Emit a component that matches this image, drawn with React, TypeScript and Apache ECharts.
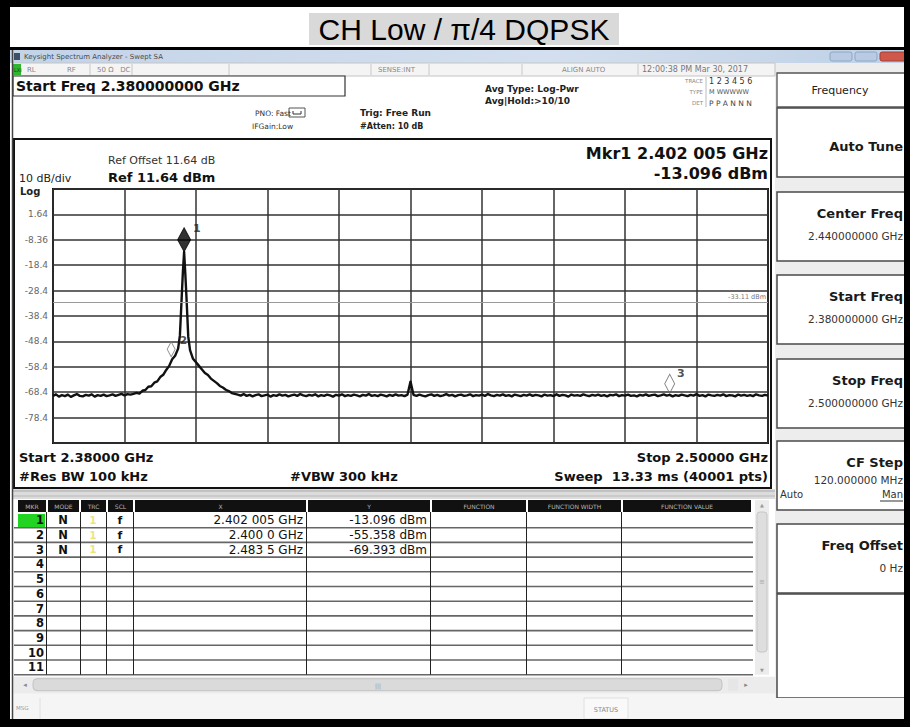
import React, { useEffect, useRef } from "react";
import * as echarts from "echarts";

// ---------------- data ----------------
const TITLE = "CH Low / π/4 DQPSK";
const START_GHZ = 2.38;
const STOP_GHZ = 2.5;
const X_DIVS = 10;
const REF_LEVEL_DBM = 11.64;
const DB_PER_DIV = 10;
const Y_DIVS = 10;
const Y_TICK_LABELS = ["1.64", "-8.36", "-18.4", "-28.4", "-38.4", "-48.4", "-58.4", "-68.4", "-78.4"];

const FLOOR_STEP_GHZ = 0.0005;
const FLOOR_LEFT_START_GHZ = 2.38;
const FLOOR_LEFT_DBM = [
  -69.8, -69.2, -70.1, -69.5, -69.9, -69.3, -70.2, -69.6, -69.1, -69.8, -70.0, -69.4, -69.7, -69.2,
  -70.1, -69.5, -69.8, -69.3, -69.9, -69.6, -69.2, -69.8, -69.4, -69.0, -69.6, -69.1, -69.3,
];
const SIGNAL_FREQ_GHZ = [
  2.3935, 2.394, 2.3945, 2.395, 2.3955, 2.396, 2.3965, 2.397, 2.3975, 2.398, 2.3985, 2.399, 2.3995,
  2.4, 2.4005, 2.401, 2.4013, 2.4016, 2.4018, 2.402005, 2.4022, 2.4024, 2.4027, 2.403, 2.4035, 2.404,
  2.4045, 2.405, 2.4055, 2.406, 2.4065, 2.407, 2.4075, 2.408, 2.4085, 2.409, 2.4095, 2.41, 2.4105,
];
const SIGNAL_DBM = [
  -69.0, -68.6, -68.9, -67.8, -67.5, -66.2, -66.0, -64.6, -64.1, -62.4, -61.5, -59.6, -58.0,
  -55.358, -54.0, -51.2, -46.0, -31.0, -21.0, -13.096, -21.5, -31.0, -46.5, -51.8, -55.2, -56.6,
  -58.0, -59.4, -60.8, -61.6, -63.0, -63.9, -64.8, -65.9, -66.5, -67.4, -67.9, -68.7, -69.0,
];
const FLOOR_RIGHT_START_GHZ = 2.411;
const FLOOR_RIGHT_DBM = [
  -69.3, -69.7, -69.1, -69.8, -69.4, -70.0, -69.5, -69.2, -69.9, -69.6, -69.3, -70.1, -69.5, -69.8, -69.2, -69.7, -69.4, -70.0, -69.6, -69.3,
  -69.8, -69.1, -69.6, -69.9, -69.4, -69.7, -69.2, -70.0, -69.5, -69.8, -69.3, -69.6, -70.1, -69.4, -69.7, -69.2, -69.9, -69.5, -69.8, -69.3,
  -69.6, -70.0, -69.4, -69.7, -69.1, -69.8, -69.5, -69.9, -69.3, -69.6, -70.0, -69.4, -69.8, -69.2, -69.7, -69.5, -69.9, -69.3, -64.2, -69.4,
  -69.8, -69.3, -69.7, -70.0, -69.5, -69.2, -69.8, -69.4, -69.9, -69.6, -69.1, -69.7, -69.4, -70.0, -69.5, -69.3, -69.8, -69.6, -69.2, -69.9,
  -69.5, -69.7, -69.3, -69.8, -69.1, -69.6, -69.9, -69.4, -69.7, -69.2, -69.8, -69.5, -70.0, -69.3, -69.6, -69.9, -69.4, -69.7, -69.2, -69.8,
  -69.4, -69.6, -70.0, -69.3, -69.7, -69.5, -69.9, -69.2, -69.8, -69.4, -69.6, -70.1, -69.3, -69.7, -69.5, -69.8, -69.2, -69.6, -69.9, -69.4,
  -69.7, -69.3, -69.8, -69.5, -70.0, -69.4, -69.6, -69.2, -69.9, -69.5, -69.7, -69.3, -69.8, -69.6, -70.0, -69.4, -69.7, -69.2, -69.8, -69.5,
  -69.3, -69.9, -69.6, -69.2, -69.7, -69.4, -70.0, -69.5, -69.8, -69.3, -69.6, -69.9, -69.4, -69.7, -69.1, -69.8, -69.5, -70.0, -69.3, -69.6,
  -69.8, -69.4, -69.7, -69.2, -69.9, -69.5, -69.6, -70.0, -69.3, -69.7, -69.4, -69.8, -69.5, -69.9, -69.2, -69.6, -69.8, -69.4, -69.7,
];

const MARKER_IDS = ["1", "2", "3"];
const MARKER_FREQ_GHZ = [2.402005, 2.4, 2.4835];
const MARKER_DBM = [-13.096, -55.358, -69.393];
const MARKER_MODE = ["N", "N", "N"];
const MARKER_TRC = ["1", "1", "1"];
const MARKER_SCL = ["f", "f", "f"];
const MARKER_X_TEXT = ["2.402 005 GHz", "2.400 0 GHz", "2.483 5 GHz"];
const MARKER_Y_TEXT = ["-13.096 dBm", "-55.358 dBm", "-69.393 dBm"];
const TABLE_ROW_IDS = ["1", "2", "3", "4", "5", "6", "7", "8", "9", "10", "11"];
const TABLE_HEADERS = ["MKR", "MODE", "TRC", "SCL", "X", "Y", "FUNCTION", "FUNCTION WIDTH", "FUNCTION VALUE"];
const DISPLAY_LINE_DBM = -33.11;
const DISPLAY_LINE_TEXT = "-33.11 dBm";

const SOFTKEY_TITLES = ["Auto Tune", "Center Freq", "Start Freq", "Stop Freq", "CF Step", "Freq Offset"];
const SOFTKEY_VALUES = ["", "2.440000000 GHz", "2.380000000 GHz", "2.500000000 GHz", "120.000000 MHz", "0 Hz"];

// ---------------- layout ----------------
const W = 910;
const H = 727;
const GRID = { left: 53, top: 189, width: 715, height: 254 };
const SF = '"DejaVu Sans", "Liberation Sans", sans-serif';
const HEADER_EDGES = [18, 48, 81, 108, 135, 308, 432, 528, 623, 753];
const COL_LINES = [46.5, 80.5, 106.5, 133.5, 306.5, 430.5, 526.5, 621.5];
const ROW_TOP = 513;
const ROW_H = 14.7;
const SOFTKEY_BOXES = [
  [108, 69],
  [192, 69],
  [275, 69],
  [359, 69],
  [441, 69],
  [524, 69],
];

const BOTTOM_DBM = REF_LEVEL_DBM - DB_PER_DIV * Y_DIVS;
const toX = (ghz: number) => (ghz - START_GHZ) * 1000;
const toY = (dbm: number) => dbm - BOTTOM_DBM;

function txt(x: number, y: number, text: string, size: number, o: any = {}) {
  const align = o.align ?? "left";
  return {
    type: "text",
    x,
    y,
    z: o.z ?? 30,
    silent: true,
    style: {
      text,
      fill: o.color ?? "#111",
      font: `${o.bold ? "bold " : ""}${size}px ${o.family ?? SF}`,
      align,
      verticalAlign: "middle",
      textAlign: align,
      textVerticalAlign: "middle",
    },
  };
}
function rect(x: number, y: number, w: number, h: number, fill: any, stroke?: string, lw?: number, z = 5, r = 0) {
  return {
    type: "rect",
    z,
    silent: true,
    shape: { x, y, width: w, height: h, r },
    style: { fill, stroke: stroke ?? "none", lineWidth: lw ?? 0 },
  };
}
function line(x1: number, y1: number, x2: number, y2: number, color: string, lw = 1, z = 20) {
  return {
    type: "line",
    z,
    silent: true,
    shape: { x1, y1, x2, y2 },
    style: { stroke: color, lineWidth: lw },
  };
}

function buildGraphics() {
  const g: any[] = [];
  // outer frame & title
  g.push(rect(309, 13, 310, 32, "#d9d9d9", undefined, 0, 3));
  g.push(txt(464, 29.5, TITLE, 30, { family: '"Liberation Sans", Arial, sans-serif', color: "#000", align: "center" }));
  g.push(rect(10, 47, 894, 3, "#000", undefined, 0, 40));
  // window title bar
  g.push(
    rect(10, 50, 894, 13, {
      type: "linear", x: 0, y: 0, x2: 1, y2: 0,
      colorStops: [
        { offset: 0, color: "#c3d3e8" },
        { offset: 0.6, color: "#d3dfee" },
        { offset: 1, color: "#c0d1e6" },
      ],
    }, undefined, 0, 4)
  );
  g.push(rect(14, 53, 6, 7, "#3d4f66", undefined, 0, 6));
  g.push(txt(24, 56.5, "Keysight Spectrum Analyzer - Swept SA", 7, { color: "#4a4a4a" }));
  g.push(rect(830, 52, 22, 9, "#b8cbe2", "#8ea6c4", 1, 6, 2));
  g.push(rect(855, 52, 22, 9, "#b8cbe2", "#8ea6c4", 1, 6, 2));
  g.push(rect(880, 52, 26, 9, "#d0584a", "#a33c30", 1, 6, 2));
  // status row
  g.push(rect(13, 63, 762, 13, "#f4f4f4", "#c4c4c4", 1, 4));
  g.push(rect(13, 64, 8, 11, "#2fb52f", undefined, 0, 6));
  g.push(txt(14, 69.5, "LXI", 5, { color: "#0b4d0b" }));
  g.push(txt(27, 69.5, "RL", 7, { color: "#888" }));
  g.push(txt(67, 69.5, "RF", 7, { color: "#888" }));
  g.push(txt(97, 69.5, "50 Ω   DC", 7, { color: "#888" }));
  g.push(txt(378, 69.5, "SENSE:INT", 7, { color: "#888" }));
  g.push(txt(562, 69.5, "ALIGN AUTO", 7, { color: "#888" }));
  g.push(txt(642, 69.5, "12:00:38 PM Mar 30, 2017", 8, { color: "#777" }));
  [90, 132, 229, 371, 429, 522, 638].forEach((x) => g.push(line(x, 64, x, 75, "#c8c8c8", 1, 6)));
  // start freq box + settings
  g.push(rect(13, 76, 332, 20, "#fff", "#333", 1.2, 6));
  g.push(txt(16, 86, "Start Freq 2.380000000 GHz", 14, { bold: true }));
  g.push(txt(255, 113, "PNO: Fast", 7.5, { color: "#333" }));
  g.push(txt(252, 126, "IFGain:Low", 7.5, { color: "#333" }));
  g.push(rect(289, 108, 16, 9, "#fff", "#555", 1, 6));
  g.push({ type: "polyline", z: 7, silent: true, shape: { points: [[293, 111], [293, 114], [301, 114], [301, 111]] }, style: { stroke: "#333", fill: "none", lineWidth: 1 } });
  g.push(txt(360, 113, "Trig: Free Run", 9, { color: "#222", bold: true }));
  g.push(txt(360, 126, "#Atten: 10 dB", 8, { color: "#222", bold: true }));
  g.push(txt(485, 89, "Avg Type: Log-Pwr", 9, { color: "#222", bold: true }));
  g.push(txt(485, 101, "Avg|Hold:>10/10", 9, { color: "#222", bold: true }));
  g.push(txt(703, 81, "TRACE", 5.5, { color: "#888", align: "right" }));
  g.push(txt(703, 92, "TYPE", 5.5, { color: "#888", align: "right" }));
  g.push(txt(703, 103, "DET", 5.5, { color: "#888", align: "right" }));
  g.push(line(706, 77, 706, 107, "#bbb", 1, 6));
  g.push(txt(709, 81, "1 2 3 4 5 6", 8, { color: "#333" }));
  g.push(txt(709, 92, "M WWWWW", 6.5, { color: "#555" }));
  g.push(txt(709, 103, "P P A N N N", 7.5, { color: "#444" }));

  // right softkey panel
  g.push(rect(775, 63, 130, 656, "#ededed", undefined, 0, 3));
  g.push(rect(777, 73, 130, 34, "#fff", "#555", 1.3, 5));
  g.push(txt(840, 90, "Frequency", 11, { color: "#222", align: "center" }));
  SOFTKEY_BOXES.forEach(([y, h], i) => {
    g.push(rect(777, y, 130, h, "#fff", "#4a4a4a", 1.5, 5));
    const hasVal = SOFTKEY_VALUES[i] !== "";
    g.push(txt(903, hasVal ? y + 21 : y + 38, SOFTKEY_TITLES[i], 13, { bold: true, align: "right", color: "#1a1a1a" }));
    if (hasVal) g.push(txt(903, y + 44 - (i === 4 ? 5 : 0), SOFTKEY_VALUES[i], 10.5, { align: "right", color: "#333" }));
  });
  g.push(txt(780, 494, "Auto", 10, { color: "#333" }));
  g.push(txt(903, 494, "Man", 10, { color: "#333", align: "right" }));
  g.push(line(880, 501, 903, 501, "#333", 1, 30));
  g.push(rect(777, 594, 130, 104, "#fff", "#4a4a4a", 1.5, 5));

  // graph window texts
  g.push(txt(108, 160, "Ref Offset 11.64 dB", 11, { color: "#333" }));
  g.push(txt(108, 177, "Ref 11.64 dBm", 13, { bold: true }));
  g.push(txt(19, 178, "10 dB/div", 11, { color: "#222" }));
  g.push(txt(20, 191, "Log", 10, { color: "#222", bold: true }));
  g.push(txt(768, 153, "Mkr1 2.402 005 GHz", 16, { bold: true, align: "right" }));
  g.push(txt(768, 173, "-13.096 dBm", 16, { bold: true, align: "right" }));
  g.push(txt(19, 457, "Start 2.38000 GHz", 13, { bold: true }));
  g.push(txt(19, 476, "#Res BW 100 kHz", 13, { bold: true }));
  g.push(txt(290, 476, "#VBW 300 kHz", 13, { bold: true }));
  g.push(txt(768, 457, "Stop 2.50000 GHz", 13, { bold: true, align: "right" }));
  g.push(txt(768, 476, "Sweep  13.33 ms (40001 pts)", 13, { bold: true, align: "right" }));
  g.push({ type: "rect", z: 25, silent: true, shape: { x: 14, y: 139, width: 757, height: 349 }, style: { fill: "none", stroke: "#111", lineWidth: 2 } });

  // separator + marker table
  g.push(rect(13, 489, 762, 10, "#dcdcdc", undefined, 0, 4));
  g.push(line(13, 491, 775, 491, "#a8a8a8", 1, 6));
  g.push(line(13, 496, 775, 496, "#b8b8b8", 1, 6));
  TABLE_HEADERS.forEach((h, i) => {
    const x0 = HEADER_EDGES[i];
    const x1 = HEADER_EDGES[i + 1] - 2;
    g.push(rect(x0, 500, x1 - x0, 12, "#111", undefined, 0, 6));
    g.push(txt((x0 + x1) / 2, 506, h, 6, { color: "#b5b5b5", align: "center" }));
  });
  g.push(rect(18, ROW_TOP + 1, 27, ROW_H - 1, "#22d422", undefined, 0, 6));
  TABLE_ROW_IDS.forEach((id, i) => {
    const cy = ROW_TOP + ROW_H * (i + 0.5);
    g.push(txt(44, cy, id, 11.5, { bold: true, align: "right" }));
    g.push(line(14, ROW_TOP + ROW_H * (i + 1), 753, ROW_TOP + ROW_H * (i + 1), "#666", 1.6, 8));
    if (i < MARKER_IDS.length) {
      g.push(txt(63, cy, MARKER_MODE[i], 11.5, { bold: true, align: "center" }));
      g.push(txt(93, cy, MARKER_TRC[i], 10, { bold: true, align: "center", color: "#ece57c" }));
      g.push(txt(120, cy, MARKER_SCL[i], 11, { bold: true, align: "center" }));
      g.push(txt(303, cy, MARKER_X_TEXT[i], 12, { align: "right", color: "#111" }));
      g.push(txt(427, cy, MARKER_Y_TEXT[i], 12, { align: "right", color: "#111" }));
    }
  });
  const tableBottom = ROW_TOP + ROW_H * TABLE_ROW_IDS.length;
  COL_LINES.forEach((x) => g.push(line(x, 512, x, tableBottom, "#222", 1, 9)));
  // vertical scrollbar
  g.push(rect(755, 500, 14, tableBottom - 500, "#ececec", undefined, 0, 6));
  g.push(rect(757, 512, 10, 140, "#dedede", "#c6c6c6", 1, 7, 3));
  g.push(txt(762, 505, "▲", 5, { color: "#999", align: "center" }));
  g.push(txt(762, 582, "≡", 7, { color: "#aaa", align: "center" }));
  g.push(txt(762, tableBottom - 5, "▼", 5, { color: "#999", align: "center" }));
  // horizontal scrollbar
  g.push(rect(13, tableBottom + 2, 762, 17, "#ececec", undefined, 0, 6));
  g.push(txt(25, tableBottom + 10.5, "◂", 7, { color: "#888", align: "center" }));
  g.push(rect(33, tableBottom + 4, 689, 12, "#dadada", "#c2c2c2", 1, 7, 4));
  g.push(txt(378, tableBottom + 10.5, "|||", 6, { color: "#999", align: "center" }));
  g.push(rect(728, tableBottom + 4, 10, 12, "#e6e6e6", undefined, 0, 7));
  g.push(txt(746, tableBottom + 10.5, "▸", 7, { color: "#888", align: "center" }));
  // message row
  g.push(rect(13, tableBottom + 19, 762, 719 - tableBottom - 19, "#f5f5f5", undefined, 0, 4));
  g.push(txt(16, 708, "MSG", 5.5, { color: "#999" }));
  g.push(line(40, 698, 40, 719, "#e0e0e0", 1, 6));
  g.push(rect(584, 698, 44, 21, "#f9f9f9", "#e0e0e0", 1, 6));
  g.push(txt(606, 710, "STATUS", 6.5, { color: "#888", align: "center" }));
  g.push(rect(775, 698, 130, 21, "#f5f5f5", undefined, 0, 6));

  // black frame
  g.push(rect(0, 0, W, 7, "#000", undefined, 0, 50));
  g.push(rect(0, 0, 10, H, "#000", undefined, 0, 50));
  g.push(rect(904, 0, 6, H, "#000", undefined, 0, 50));
  g.push(rect(0, 719, W, 8, "#000", undefined, 0, 50));
  g.push(line(12.5, 50, 12.5, 719, "#444", 1.5, 45));
  return g;
}

export default function App() {
  const ref = useRef<HTMLDivElement>(null);
  useEffect(() => {
    if (!ref.current) return;
    const chart = echarts.init(ref.current, undefined, { renderer: "svg" });

    const trace: number[][] = [];
    FLOOR_LEFT_DBM.forEach((d, i) => trace.push([toX(FLOOR_LEFT_START_GHZ + i * FLOOR_STEP_GHZ), toY(d)]));
    SIGNAL_FREQ_GHZ.forEach((f, i) => trace.push([toX(f), toY(SIGNAL_DBM[i])]));
    FLOOR_RIGHT_DBM.forEach((d, i) => trace.push([toX(FLOOR_RIGHT_START_GHZ + i * FLOOR_STEP_GHZ), toY(d)]));

    const markerStyles = [
      { size: [13, 24], offset: [0, -12], fill: "#000", stroke: "#000", lab: [1, -11] },
      { size: [8, 15], offset: [-1, -10], fill: "rgba(255,255,255,0)", stroke: "#777", lab: [3, -9] },
      { size: [10, 19], offset: [0, -11], fill: "rgba(255,255,255,0)", stroke: "#666", lab: [1, -10] },
    ];
    const markerData = MARKER_IDS.map((id, i) => ({
      value: [toX(MARKER_FREQ_GHZ[i]), toY(MARKER_DBM[i])],
      name: id,
      symbol: "diamond",
      symbolSize: markerStyles[i].size,
      symbolOffset: markerStyles[i].offset,
      itemStyle: { color: markerStyles[i].fill, borderColor: markerStyles[i].stroke, borderWidth: 1 },
      label: {
        show: true,
        formatter: id,
        position: "right",
        distance: 1,
        offset: markerStyles[i].lab,
        color: "#222",
        fontSize: 11,
        fontWeight: "bold",
        fontFamily: SF,
      },
    }));

    const axisLine = { show: false };
    const split = { show: true, lineStyle: { color: "#333", width: 1.5 } };
    const xSpan = (STOP_GHZ - START_GHZ) * 1000;

    chart.setOption({
      animation: false,
      backgroundColor: "#ffffff",
      graphic: { elements: buildGraphics() },
      grid: {
        left: GRID.left,
        top: GRID.top,
        width: GRID.width,
        height: GRID.height,
        show: true,
        borderColor: "#111",
        borderWidth: 2,
        backgroundColor: "#fff",
      },
      xAxis: {
        type: "value",
        min: 0,
        max: xSpan,
        interval: xSpan / X_DIVS,
        axisLine,
        axisTick: { show: false },
        axisLabel: { show: false },
        splitLine: split,
      },
      yAxis: {
        type: "value",
        min: 0,
        max: DB_PER_DIV * Y_DIVS,
        interval: DB_PER_DIV,
        axisLine,
        axisTick: { show: false },
        splitLine: split,
        axisLabel: {
          show: true,
          margin: 5,
          color: "#666",
          fontSize: 9,
          fontFamily: SF,
          formatter: (v: number) => {
            const idx = Math.round((DB_PER_DIV * Y_DIVS - v) / DB_PER_DIV) - 1;
            return Y_TICK_LABELS[idx] ?? "";
          },
        },
      },
      series: [
        {
          type: "line",
          data: trace,
          showSymbol: false,
          symbol: "none",
          z: 3,
          lineStyle: { color: "#111", width: 2.4, join: "round" },
          markLine: {
            silent: true,
            symbol: "none",
            animation: false,
            lineStyle: { color: "#9a9a9a", width: 1, type: "solid" },
            label: {
              show: true,
              formatter: DISPLAY_LINE_TEXT,
              position: "insideEndTop",
              distance: 2,
              fontSize: 6.5,
              color: "#777",
              fontFamily: SF,
            },
            data: [{ yAxis: toY(DISPLAY_LINE_DBM) }],
          },
        },
        {
          type: "scatter",
          data: markerData,
          z: 4,
        },
      ],
    });
    return () => chart.dispose();
  }, []);
  return <div ref={ref} style={{ position: "fixed", left: 0, top: 0, width: W, height: H }} />;
}
